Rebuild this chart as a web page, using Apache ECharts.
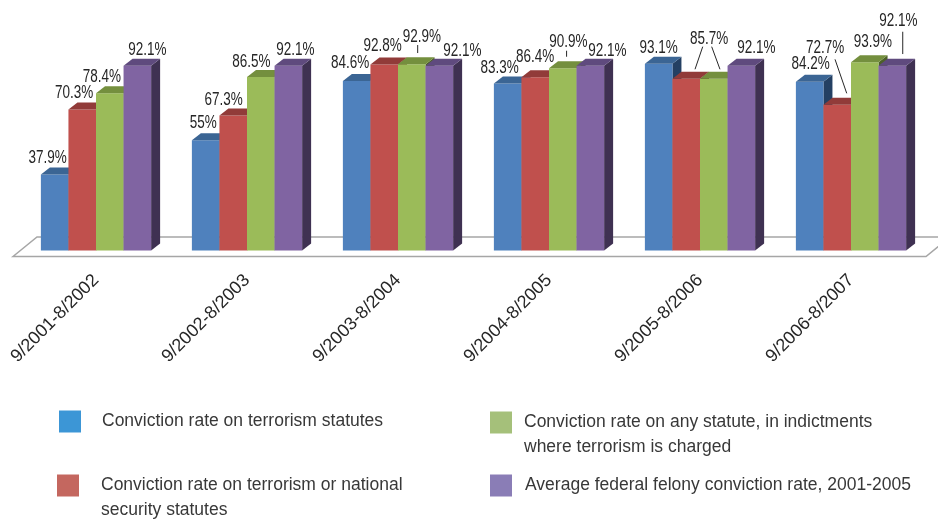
<!DOCTYPE html>
<html>
<head>
<meta charset="utf-8">
<script src="https://cdn.jsdelivr.net/npm/echarts@6/dist/echarts.min.js"></script>
<style>
  html, body { margin: 0; padding: 0; background: #fff; }
  #chart { width: 938px; height: 520px; }
</style>
</head>
<body>
<div id="chart"></div>
<script>
// data
const categories = ['9/2001-8/2002', '9/2002-8/2003', '9/2003-8/2004', '9/2004-8/2005', '9/2005-8/2006', '9/2006-8/2007'];
const terrorism = [37.9, 55, 84.6, 83.3, 93.1, 84.2];
const terrorismNatSec = [70.3, 67.3, 92.8, 86.4, 85.7, 72.7];
const anyStatute = [78.4, 86.5, 92.9, 90.9, 85.7, 93.9];
const federalAvg = [92.1, 92.1, 92.1, 92.1, 92.1, 92.1];

const names = [
  'Conviction rate on terrorism statutes',
  'Conviction rate on terrorism or national\nsecurity statutes',
  'Conviction rate on any statute, in indictments\nwhere terrorism is charged',
  'Average federal felony conviction rate, 2001-2005'
];

// 3d bar colours: front / top / side
const front = ['#4F81BD', '#C0504D', '#9BBB59', '#8064A2'];
const topC = ['#3B6594', '#913B39', '#748F3E', '#5F4A7E'];
const sideC = ['#244063', '#5E2826', '#4D6128', '#3F3152'];
const legendC = ['#3C96D6', '#C4675F', '#A5C07A', '#8A7DB6'];

// label offsets from bar front-top centre (null = hidden)
const labelOff = [
  [[-7, -16], [-2.5, -17.5], [-6.5, -17.5], [-8, -15], [0, -15.5], [1, -17.5]],
  [[-8, -16.5], [-9.5, -15.5], [-1.5, -18.5], [0, -20.5], [23, -39.5], [-12, -56.5]],
  [[-8, -16.5], [-9.5, -15.5], [10, -27.5], [5.5, -26.5], null, [8, -20.5]],
  [[10, -16], [7, -16], [23, -15], [17, -15], [15, -17.5], [6, -45]]
];
// leader lines [x1, y1, x2, y2] relative to bar front-top centre
const leaders = [
  [null, null, null, null, null, null],
  [null, null, null, null, [16.5, -32, 8.8, -9.4], [-2.2, -45.4, 9.5, -11.4]],
  [null, null, [5.9, -19.2, 5.9, -11.2], [3.8, -17.5, 3.8, -11.5], [-2.1, -32, 6.2, -9.4], null],
  [null, null, null, null, null, [10.4, -34.1, 10.4, -11.8]]
];

const FONT = "'Liberation Sans', Arial, sans-serif";
const DX = 9, DY = 7;

function makeRender(s) {
  return function (params, api) {
    const ci = api.value(0);
    const v = api.value(1);
    const p = api.coord([ci, v]);
    const base = api.coord([ci, 0]);
    const band = api.size([1, 0])[0];
    const gw = band * 0.73;
    const bw = gw / 4;
    const x0 = p[0] - gw / 2 + s * bw;
    const x1 = x0 + bw;
    const top = p[1];
    const bot = base[1];
    const cx = x0 + bw / 2;
    const children = [
      { type: 'polygon', shape: { points: [[x1, top], [x1 + DX, top - DY], [x1 + DX, bot - DY], [x1, bot]] }, style: { fill: sideC[s] } },
      { type: 'rect', shape: { x: x0, y: top, width: bw, height: bot - top }, style: { fill: front[s] } },
      { type: 'polygon', shape: { points: [[x0, top], [x0 + DX, top - DY], [x1 + DX, top - DY], [x1, top]] }, style: { fill: topC[s] } }
    ];
    const off = labelOff[s][ci];
    if (off) {
      // narrow look: squeeze the label a bit
      children.push({
        type: 'text',
        x: cx + off[0], y: top + off[1], scaleX: 0.75,
        style: {
          text: v + '%', x: 0, y: 0,
          align: 'center', verticalAlign: 'middle',
          fill: '#262626', font: '18px ' + FONT
        }
      });
    }
    const ld = leaders[s][ci];
    if (ld) {
      children.push({
        type: 'line',
        shape: { x1: cx + ld[0], y1: top + ld[1], x2: cx + ld[2], y2: top + ld[3] },
        style: { stroke: '#262626', lineWidth: 1 }
      });
    }
    return { type: 'group', children: children };
  };
}

const seriesData = [terrorism, terrorismNatSec, anyStatute, federalAvg];

function legendFor(i, left, top, padLeft, twoLine) {
  return {
    left: left, top: top, padding: 0,
    itemWidth: 22, itemHeight: 22, selectedMode: false,
    icon: 'rect',
    data: [{ name: names[i], itemStyle: { color: legendC[i] } }],
    // blank first line keeps line one level with the square
    formatter: twoLine ? function (n) { return '\n' + n; } : '{name}',
    textStyle: { fontFamily: FONT, fontSize: 17.5, lineHeight: 25, color: '#383838', padding: [0, 0, 0, padLeft] }
  };
}

const chart = echarts.init(document.getElementById('chart'));
chart.setOption({
  animation: false,
  grid: { left: 20.5, right: 11.5, top: 50, bottom: 269.5 },
  xAxis: {
    type: 'category',
    data: categories,
    axisLine: { show: false },
    axisTick: { show: false },
    axisLabel: { rotate: 45, margin: 27, fontFamily: FONT, fontSize: 18, color: '#262626' }
  },
  yAxis: { type: 'value', min: 0, max: 100, show: false, splitLine: { show: false } },
  graphic: [
    {
      type: 'polygon', z: -10,
      shape: { points: [[13, 256.5], [37, 237], [950, 237], [926, 256.5]] },
      style: { fill: '#fff', stroke: '#A6A6A6', lineWidth: 1.5 }
    }
  ],
  legend: [
    legendFor(0, 59, 410.5 - 1.5, 16, false),
    legendFor(1, 57, 474.5 - 26.5, 17, true),
    legendFor(2, 490, 411.5 - 26.5, 7, true),
    legendFor(3, 490, 474.5 - 1.5, 8, false)
  ],
  series: seriesData.map(function (vals, s) {
    return {
      type: 'custom',
      name: names[s],
      itemStyle: { color: front[s] },
      renderItem: makeRender(s),
      encode: { x: 0, y: 1 },
      data: vals.map(function (v, i) { return [i, v]; })
    };
  })
});
</script>
</body>
</html>
